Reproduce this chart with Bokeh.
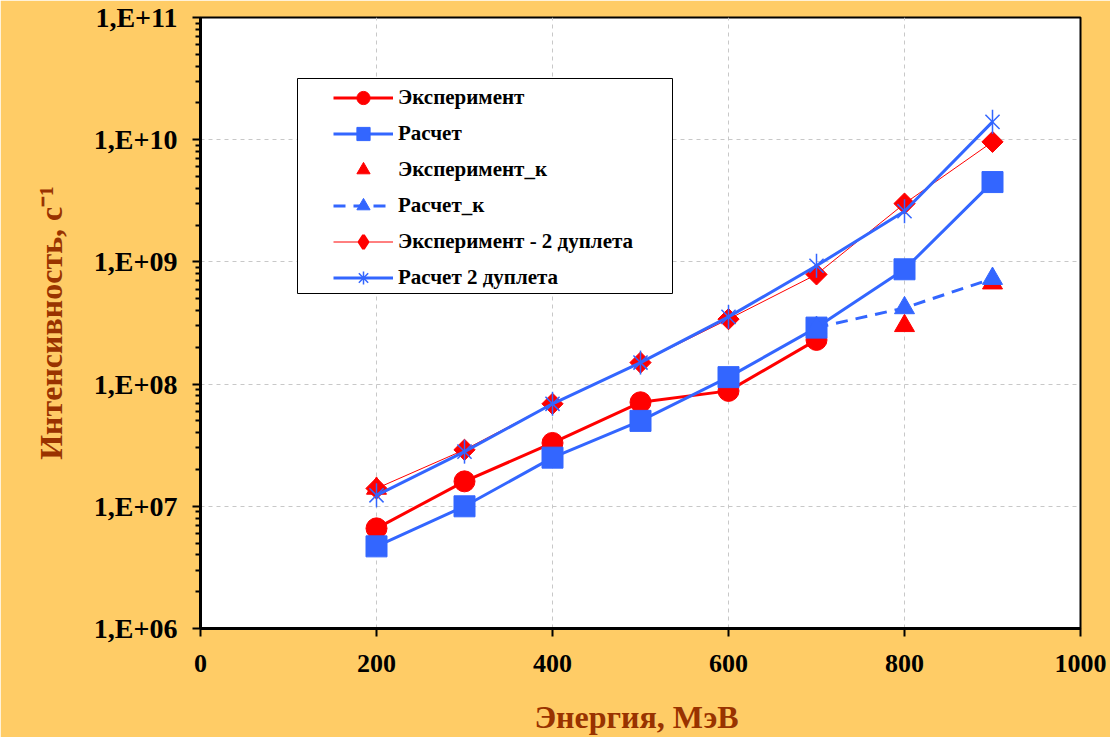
import math
from bokeh.plotting import figure
from bokeh.models import CustomJSTickFormatter, FixedTicker, Legend, LegendItem, BoxAnnotation
from bokeh.embed import file_html
from bokeh.resources import INLINE

# ---- data ----
exp_x = [200, 300, 400, 500, 600, 700]
exp_y = [6.6e6, 1.6e7, 3.3e7, 7.1e7, 8.8e7, 2.3e8]

calc_x = [200, 300, 400, 500, 600, 700, 800, 900]
calc_y = [4.7e6, 1.0e7, 2.5e7, 5.0e7, 1.14e8, 2.9e8, 8.7e8, 4.5e9]

expk_x = [200, 800, 900]
expk_y = [1.4e7, 3.0e8, 6.7e8]

calck_x = [700, 800, 900]
calck_y = [2.9e8, 4.2e8, 7.3e8]

exp2_x = [200, 300, 400, 500, 600, 700, 800, 900]
exp2_y = [1.4e7, 2.9e7, 6.9e7, 1.5e8, 3.4e8, 7.9e8, 3.0e9, 9.6e9]

calc2_x = [200, 300, 400, 500, 600, 700, 800, 900]
calc2_y = [1.23e7, 2.8e7, 6.9e7, 1.5e8, 3.55e8, 9.3e8, 2.6e9, 1.4e10]

x_ticks = [0, 200, 400, 600, 800, 1000]
y_ticks = [1e6, 1e7, 1e8, 1e9, 1e10, 1e11]
y_minor = [k * 10 ** d for d in range(6, 11) for k in range(2, 10)]

labels = ["Эксперимент", "Расчет", "Эксперимент_к", "Расчет_к",
          "Эксперимент - 2 дуплета", "Расчет 2 дуплета"]

RED = "#FF0000"
BLUE = "#3366FF"
FONT = "Liberation Serif"

p = figure(width=1110, height=737, x_range=(0, 1000), y_range=(1e6, 1e11),
           y_axis_type="log", output_backend="svg", toolbar_location=None,
           min_border_left=200, min_border_right=30, min_border_top=17,
           min_border_bottom=109)

p.border_fill_color = "#FFCC66"
p.background_fill_color = "white"
p.outline_line_color = "black"
p.outline_line_width = 2

# axes
for ax in (p.xaxis[0], p.yaxis[0]):
    ax.axis_line_width = 3
    ax.axis_line_color = "black"
    ax.major_tick_line_width = 2
    ax.major_tick_line_color = "black"
    ax.major_tick_in = 0
    ax.major_tick_out = 8
    ax.major_label_text_font = FONT
    ax.major_label_text_font_style = "bold"
    ax.major_label_text_color = "black"
    ax.axis_label_text_font = FONT
    ax.axis_label_text_font_style = "bold"
    ax.axis_label_text_font_size = "32px"
    ax.axis_label_text_color = "#993300"

p.xaxis.major_label_text_font_size = "26px"
p.yaxis.major_label_text_font_size = "28px"

p.xaxis.ticker = FixedTicker(ticks=x_ticks)
p.xaxis.minor_tick_line_color = None
p.xaxis.major_label_standoff = 18
p.xaxis.axis_label = "Энергия,  МэВ"
p.xaxis.axis_label_standoff = 24

p.yaxis.ticker = FixedTicker(ticks=y_ticks, minor_ticks=y_minor)
p.yaxis.minor_tick_in = 0
p.yaxis.minor_tick_out = 5
p.yaxis.minor_tick_line_width = 2
p.yaxis.minor_tick_line_color = "black"
p.yaxis.major_label_standoff = 15
p.yaxis.formatter = CustomJSTickFormatter(
    code="return '1,E+' + String(Math.round(Math.log10(tick))).padStart(2, '0');")
p.yaxis.axis_label = "Интенсивность, с⁻¹"
p.yaxis.axis_label_standoff = 22

for g in (p.xgrid[0], p.ygrid[0]):
    g.grid_line_color = "#C8C8C8"
    g.grid_line_dash = "4 4"
    g.grid_line_width = 1

# series
r1l = p.line(exp_x, exp_y, line_color=RED, line_width=3)
r1m = p.scatter(exp_x, exp_y, marker="circle", size=21, fill_color=RED, line_color=RED)

r2l = p.line(calc_x, calc_y, line_color=BLUE, line_width=3)
r2m = p.scatter(calc_x, calc_y, marker="square", size=21, fill_color=BLUE, line_color=BLUE)

r3m = p.scatter(expk_x, expk_y, marker="triangle", size=20, fill_color=RED, line_color=RED)

r4l = p.line(calck_x, calck_y, line_color=BLUE, line_width=3, line_dash="12 8")
r4m = p.scatter(calck_x, calck_y, marker="triangle", size=20, fill_color=BLUE, line_color=BLUE)

r5l = p.line(exp2_x, exp2_y, line_color=RED, line_width=1)
# tiny marker used as the legend glyph (hidden under the real markers)
leg_diamond = p.scatter(exp2_x, exp2_y, marker="diamond", size=1,
                        fill_color=RED, line_color=RED, line_width=3)
r5m = p.scatter(exp2_x, exp2_y, marker="square", angle=math.pi / 4, size=15,
                fill_color=RED, line_color=RED)

r6l = p.line(calc2_x, calc2_y, line_color=BLUE, line_width=3)
leg_aster = p.scatter(calc2_x, calc2_y, marker="asterisk", size=1,
                      line_color=BLUE, line_width=1.5)
r6x = p.scatter(calc2_x, calc2_y, marker="x", size=20, line_color=BLUE, line_width=1.5)
r6v = p.scatter(calc2_x, calc2_y, marker="dash", angle=math.pi / 2, size=24,
                line_color=BLUE, line_width=1.5)

# legend frame (frame-relative screen units)
box = BoxAnnotation(left=97, right=472, bottom=335, top=550,
                    left_units="screen", right_units="screen",
                    bottom_units="screen", top_units="screen",
                    fill_color="white", fill_alpha=1,
                    line_color="black", line_width=1, line_alpha=1)
p.add_layout(box)

legend = Legend(items=[
    LegendItem(label=labels[0], renderers=[r1l, r1m]),
    LegendItem(label=labels[1], renderers=[r2l, r2m]),
    LegendItem(label=labels[2], renderers=[r3m]),
    LegendItem(label=labels[3], renderers=[r4l, r4m]),
    LegendItem(label=labels[4], renderers=[r5l, leg_diamond]),
    LegendItem(label=labels[5], renderers=[r6l, leg_aster]),
], location=(133, 334))
legend.background_fill_alpha = 0
legend.border_line_color = None
legend.label_text_font = FONT
legend.label_text_font_style = "bold"
legend.label_text_font_size = "21px"
legend.label_text_color = "black"
legend.glyph_width = 60
legend.glyph_height = 33
legend.label_height = 20
legend.label_standoff = 5
legend.spacing = 3
legend.padding = 0
legend.margin = 0
p.add_layout(legend)

open("out.html", "w").write(file_html(p, INLINE))
